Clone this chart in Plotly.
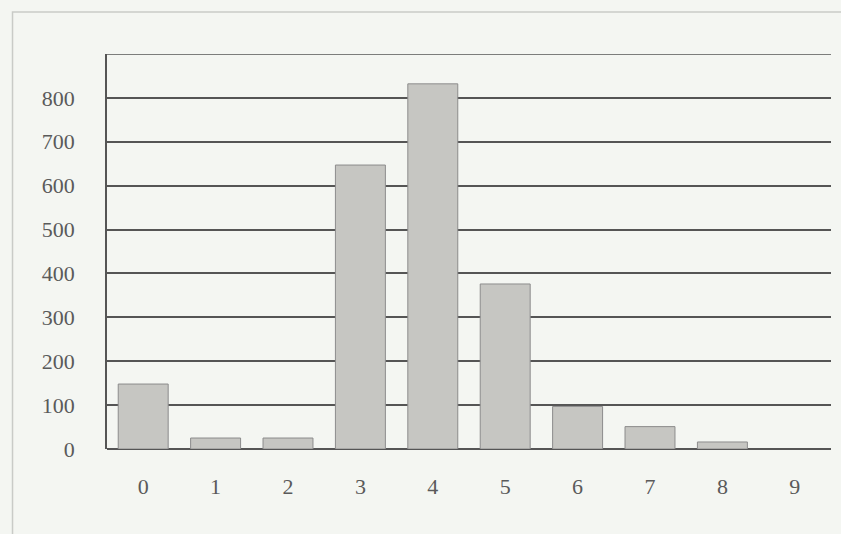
import plotly.graph_objects as go

categories = ["0", "1", "2", "3", "4", "5", "6", "7", "8", "9"]
counts = [148, 25, 25, 647, 832, 376, 97, 51, 16, 0]
y_ticks = [0, 100, 200, 300, 400, 500, 600, 700, 800]
y_ticktext = ["0", "100", "200", "300", "400", "500", "600", "700", "800"]
y_max = 900

bg = "#f4f6f2"
grid = "#555555"

fig = go.Figure(
    go.Bar(
        x=categories,
        y=counts,
        marker=dict(
            color="#c6c6c2",
            line=dict(color="#8c8c8c", width=[1 if c > 0 else 0 for c in counts]),
        ),
        width=0.69,
    )
)

fig.update_layout(
    width=841,
    height=534,
    paper_bgcolor=bg,
    plot_bgcolor=bg,
    margin=dict(l=107, r=10, t=54, b=85),
    showlegend=False,
    bargap=0.31,
    font=dict(family="Liberation Serif", size=22, color="#5a5a5a"),
    shapes=[
        dict(
            type="rect", xref="paper", yref="paper",
            x0=-0.1305, x1=1.2, y0=-0.4, y1=1.1063,
            line=dict(color="#c9cbc7", width=1.5), fillcolor="rgba(0,0,0,0)",
            layer="below",
        ),
        dict(
            type="line", xref="paper", yref="y",
            x0=0, x1=1, y0=y_max, y1=y_max,
            line=dict(color=grid, width=1.6),
            layer="below",
        ),
    ],
)

fig.update_xaxes(
    type="category",
    showgrid=False,
    showline=False,
    zeroline=False,
    ticks="outside",
    ticklen=18,
    tickcolor="rgba(0,0,0,0)",
    range=[-0.5, 9.5],
)

fig.update_yaxes(
    range=[0, y_max],
    tickvals=y_ticks,
    ticktext=y_ticktext,
    showgrid=True,
    gridcolor=grid,
    gridwidth=1.6,
    zeroline=True,
    zerolinecolor=grid,
    zerolinewidth=1.6,
    showline=True,
    linecolor=grid,
    linewidth=1.6,
    ticks="outside",
    ticklen=26,
    tickcolor="rgba(0,0,0,0)",
)

fig.write_html(
    "out.html",
    config={"displayModeBar": False},
    post_script="document.body.style.margin='0';document.body.style.background='%s';" % bg,
)
